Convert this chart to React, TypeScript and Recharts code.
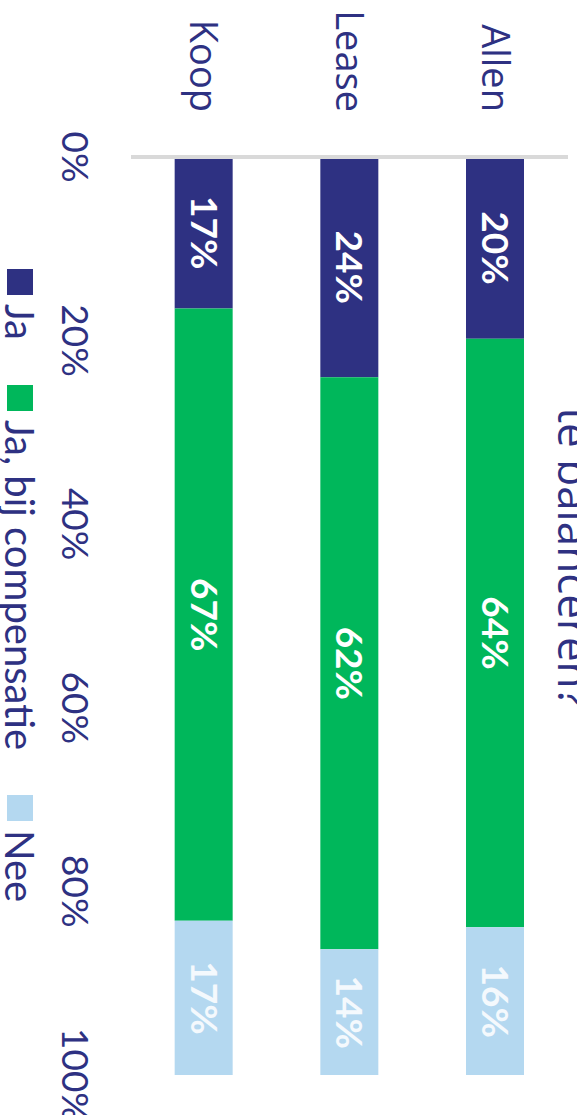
import React from "react";
import { Bar, BarChart, LabelList, XAxis, YAxis } from "recharts";

// data
const categories = ["Allen", "Lease", "Koop"];
const jaValues = [19.8, 24.0, 16.5];
const compensatieValues = [64.1, 62.3, 66.7];
const neeValues = [16.1, 13.7, 16.8];
const xTicks = [0, 20, 40, 60, 80, 100];

const NAVY = "#2e3182";
const GREEN = "#00b75b";
const LIGHT_BLUE = "#b4d8f0";
const AXIS_GREY = "#d9d9d9";

const chartData = categories.map((name, i) => ({
  name,
  ja: jaValues[i],
  compensatie: compensatieValues[i],
  nee: neeValues[i],
}));

const series = [
  { key: "ja", name: "Ja", color: NAVY, labelColor: "#ffffff" },
  { key: "compensatie", name: "Ja, bij compensatie", color: GREEN, labelColor: "#ffffff" },
  { key: "nee", name: "Nee", color: LIGHT_BLUE, labelColor: "#f4f9fd" },
];

// the chart is drawn landscape and turned a quarter clockwise
const W = 1115;
const H = 577;

function CategoryTick({ x, y, payload }: any) {
  return (
    <text x={x} y={y} dy="0.36em" textAnchor="end" fill={NAVY} fontSize={38} fontFamily="'Open Sans', sans-serif">
      {payload.value}
    </text>
  );
}

function PercentTick({ x, y, payload }: any) {
  return (
    <text x={x} y={y} dy="0.36em" textAnchor="middle" fill={NAVY} fontSize={37} fontFamily="Lato, sans-serif">
      {payload.value}%
    </text>
  );
}

// legend kept outside recharts: its DOM measuring breaks inside a rotated box
function LegendRow() {
  return (
    <div
      style={{
        position: "absolute",
        left: 0,
        top: 542,
        height: 30,
        display: "flex",
        alignItems: "center",
        gap: 45,
        paddingLeft: 269,
      }}
    >
      {series.map((s) => (
        <div key={s.key} style={{ display: "flex", alignItems: "center", gap: 9 }}>
          <span style={{ width: 26, height: 26, background: s.color, display: "inline-block" }} />
          <span style={{ color: NAVY, fontSize: 40, fontFamily: "Lato, sans-serif", lineHeight: "30px", whiteSpace: "nowrap" }}>
            {s.name}
          </span>
        </div>
      ))}
    </div>
  );
}

export default function App() {
  return (
    <div style={{ position: "absolute", left: 0, top: 0, width: H, height: W, overflow: "hidden", background: "#fff" }}>
      <div
        style={{
          position: "absolute",
          left: 0,
          top: 0,
          width: W,
          height: H,
          transformOrigin: "0 0",
          transform: `translate(${H}px, 0) rotate(90deg)`,
        }}
      >
        <BarChart
          width={W}
          height={H}
          data={chartData}
          layout="vertical"
          barSize={58}
          margin={{ top: 9, right: 40, bottom: 30, left: 0 }}
        >
          <XAxis
            type="number"
            domain={[0, 100]}
            ticks={xTicks}
            axisLine={false}
            tickLine={false}
            tickSize={0}
            tickMargin={56}
            height={101}
            tick={<PercentTick />}
            interval={0}
          />
          <YAxis
            type="category"
            dataKey="name"
            width={157}
            axisLine={{ stroke: AXIS_GREY, strokeWidth: 4 }}
            tickLine={false}
            tickSize={0}
            tickMargin={45}
            tick={<CategoryTick />}
            interval={0}
          />
          {series.map((s) => (
            <Bar key={s.key} dataKey={s.key} name={s.name} stackId="a" fill={s.color} isAnimationActive={false}>
              <LabelList
                dataKey={s.key}
                position="center"
                formatter={(v: any) => `${Math.round(Number(v))}%`}
                fill={s.labelColor}
                fontSize={37}
                fontWeight="bold"
                fontFamily="Lato, sans-serif"
              />
            </Bar>
          ))}
        </BarChart>
        <LegendRow />
        <svg width={W} height={H} style={{ position: "absolute", left: 0, top: 0, pointerEvents: "none" }}>
          <text x={W / 2} y={19} textAnchor="middle" fill={NAVY} fontSize={44} fontFamily="'Open Sans', sans-serif">
            te balanceren?
          </text>
        </svg>
      </div>
    </div>
  );
}
